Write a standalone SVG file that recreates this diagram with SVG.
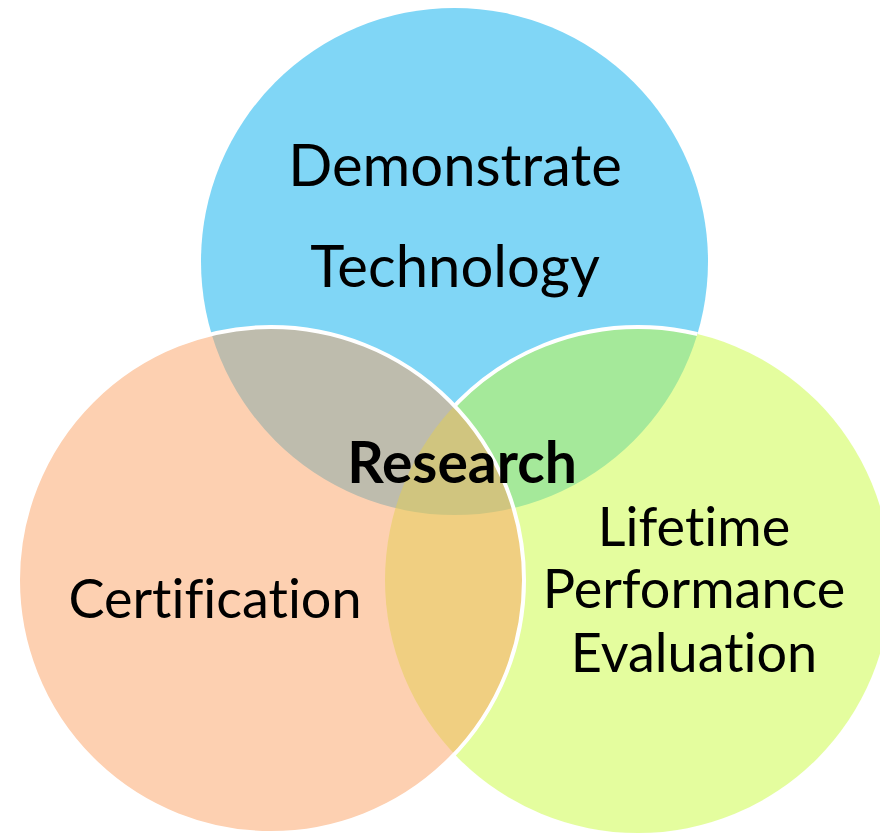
<svg xmlns="http://www.w3.org/2000/svg" width="880" height="834" viewBox="0 0 880 834">
<style>
.lbl{font-family:Lato,"Open Sans","Liberation Sans",sans-serif;fill:#000;text-anchor:middle;font-variant-ligatures:none;font-feature-settings:"liga" 0,"dlig" 0,"clig" 0}
.big{font-size:58px}
.mid{font-size:54px}
.bold{font-size:57px;font-weight:bold}
</style>
<defs>
<mask id="greenStrokeMask" maskUnits="userSpaceOnUse" x="0" y="0" width="880" height="834">
<rect x="0" y="0" width="880" height="834" fill="#000"/>
<circle cx="454.5" cy="261.5" r="253.5" fill="#fff"/>
<circle cx="271" cy="580" r="253" fill="#000"/>
</mask>
</defs>
<rect x="0" y="0" width="880" height="834" fill="#fff"/>
<g id="demonstrate">
<circle cx="454.5" cy="261.5" r="253.5" fill="#80d6f6"/>
</g>
<g id="lifetime">
<circle cx="638" cy="580" r="253" fill="rgb(201,251,61)" fill-opacity="0.5"/>
<circle cx="638" cy="580" r="253" fill="none" stroke="#fff" stroke-width="4" mask="url(#greenStrokeMask)"/>
</g>
<g id="certification">
<circle cx="271" cy="580" r="253" fill="rgb(251,161,99)" fill-opacity="0.5" stroke="#fff" stroke-width="4"/>
</g>
<g id="labels">
<text class="lbl big" x="455" y="186">Demonstrate</text>
<text class="lbl big" x="455" y="287">Technology</text>
<text class="lbl bold" x="462" y="483">Research</text>
<text class="lbl mid" x="215" y="618">Certification</text>
<text class="lbl mid" x="694" y="546">Lifetime</text>
<text class="lbl mid" x="694" y="608">Performance</text>
<text class="lbl mid" x="694" y="672">Evaluation</text>
</g>
<g id="connectors"></g>
</svg>
